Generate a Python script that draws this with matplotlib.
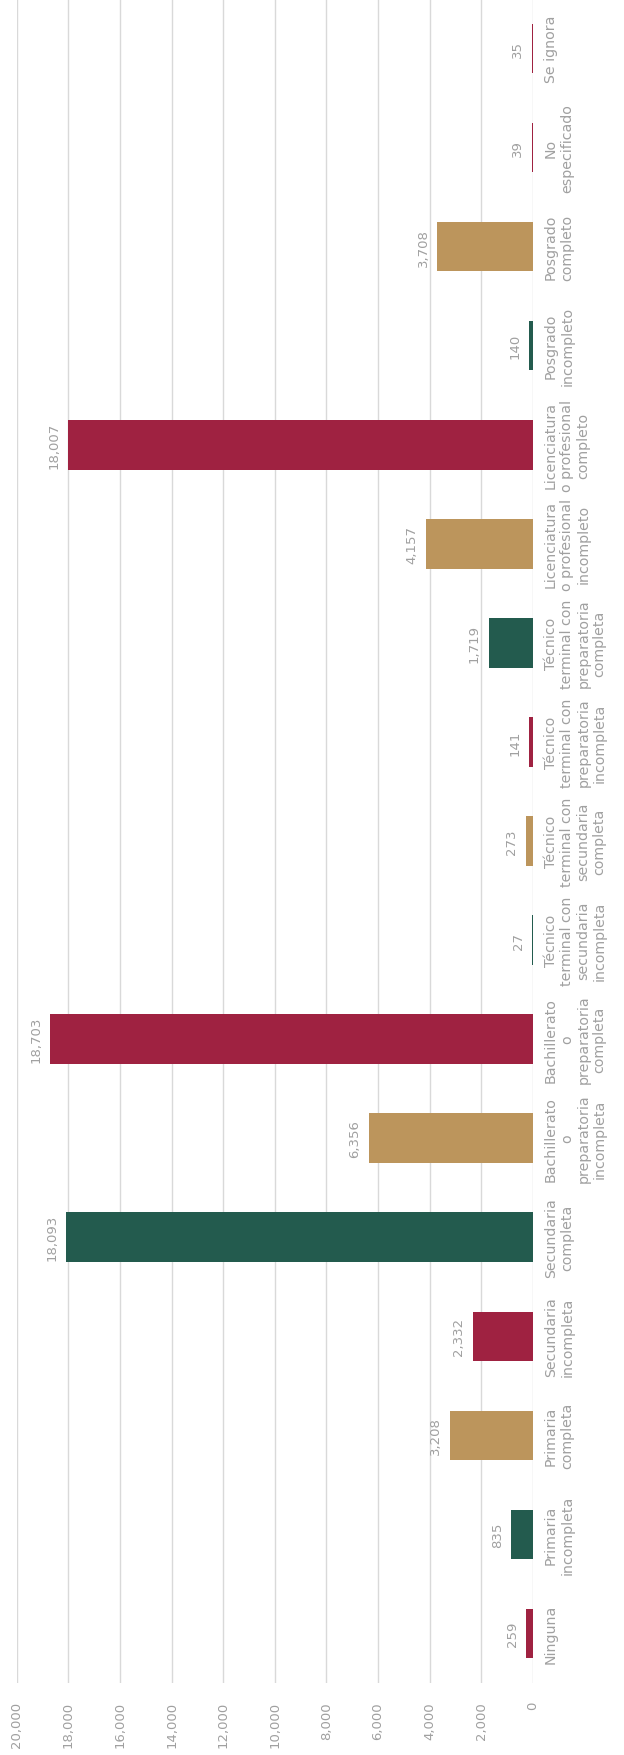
import matplotlib.pyplot as plt

plt.rcParams['font.family'] = ['DejaVu Sans']

categories = [
    'Ninguna',
    'Primaria\nincompleta',
    'Primaria\ncompleta',
    'Secundaria\nincompleta',
    'Secundaria\ncompleta',
    'Bachillerato\no\npreparatoria\nincompleta',
    'Bachillerato\no\npreparatoria\ncompleta',
    'Técnico\nterminal con\nsecundaria\nincompleta',
    'Técnico\nterminal con\nsecundaria\ncompleta',
    'Técnico\nterminal con\npreparatoria\nincompleta',
    'Técnico\nterminal con\npreparatoria\ncompleta',
    'Licenciatura\no profesional\nincompleto',
    'Licenciatura\no profesional\ncompleto',
    'Posgrado\nincompleto',
    'Posgrado\ncompleto',
    'No\nespecificado',
    'Se ignora',
]
values = [259, 835, 3208, 2332, 18093, 6356, 18703, 27, 273, 141,
          1719, 4157, 18007, 140, 3708, 39, 35]

RED = '#9F2241'
GREEN = '#235B4E'
GOLD = '#BC955C'
bar_colors = [RED, GREEN, GOLD, RED, GREEN, GOLD, RED, GREEN, GOLD, RED,
              GREEN, GOLD, RED, GREEN, GOLD, RED, RED]

value_ticks = list(range(0, 20001, 2000))
TEXT = '#a0a0a0'

fig = plt.figure(figsize=(6.24, 17.56), dpi=100)
ax = fig.add_axes([0.027, 0.041, 0.827, 0.959])

pos = list(range(len(categories)))
ax.barh(pos, values, height=0.5, color=bar_colors, zorder=3)

# value labels, rotated like the rest of the chart
for p, v in zip(pos, values):
    ax.annotate(f'{v:,}', xy=(v, p), xytext=(-5.5, 0), textcoords='offset points',
                rotation=90, ha='right', va='center', fontsize=9.5, color=TEXT)

ax.set_xlim(20000, 0)
ax.set_ylim(-0.5, len(categories) - 0.5)

ax.set_xticks(value_ticks)
ax.set_xticklabels([f'{t:,}' for t in value_ticks], rotation=90, va='top',
                   ha='center', fontsize=9.5, color=TEXT)
ax.tick_params(axis='x', length=0, pad=13)

ax.yaxis.tick_right()
ax.set_yticks(pos)
ax.set_yticklabels(categories, fontsize=10.2, color=TEXT)
for lab in ax.get_yticklabels():
    lab.set_rotation(90)
    lab.set_va('center')
    lab.set_ha('left')
    lab.set_multialignment('center')
    lab.set_linespacing(1.2)
ax.tick_params(axis='y', length=0, pad=8)

ax.grid(axis='x', color='#d9d9d9', linewidth=1, zorder=0)
for s in ax.spines.values():
    s.set_visible(False)

fig.savefig('out.png', dpi=100)
